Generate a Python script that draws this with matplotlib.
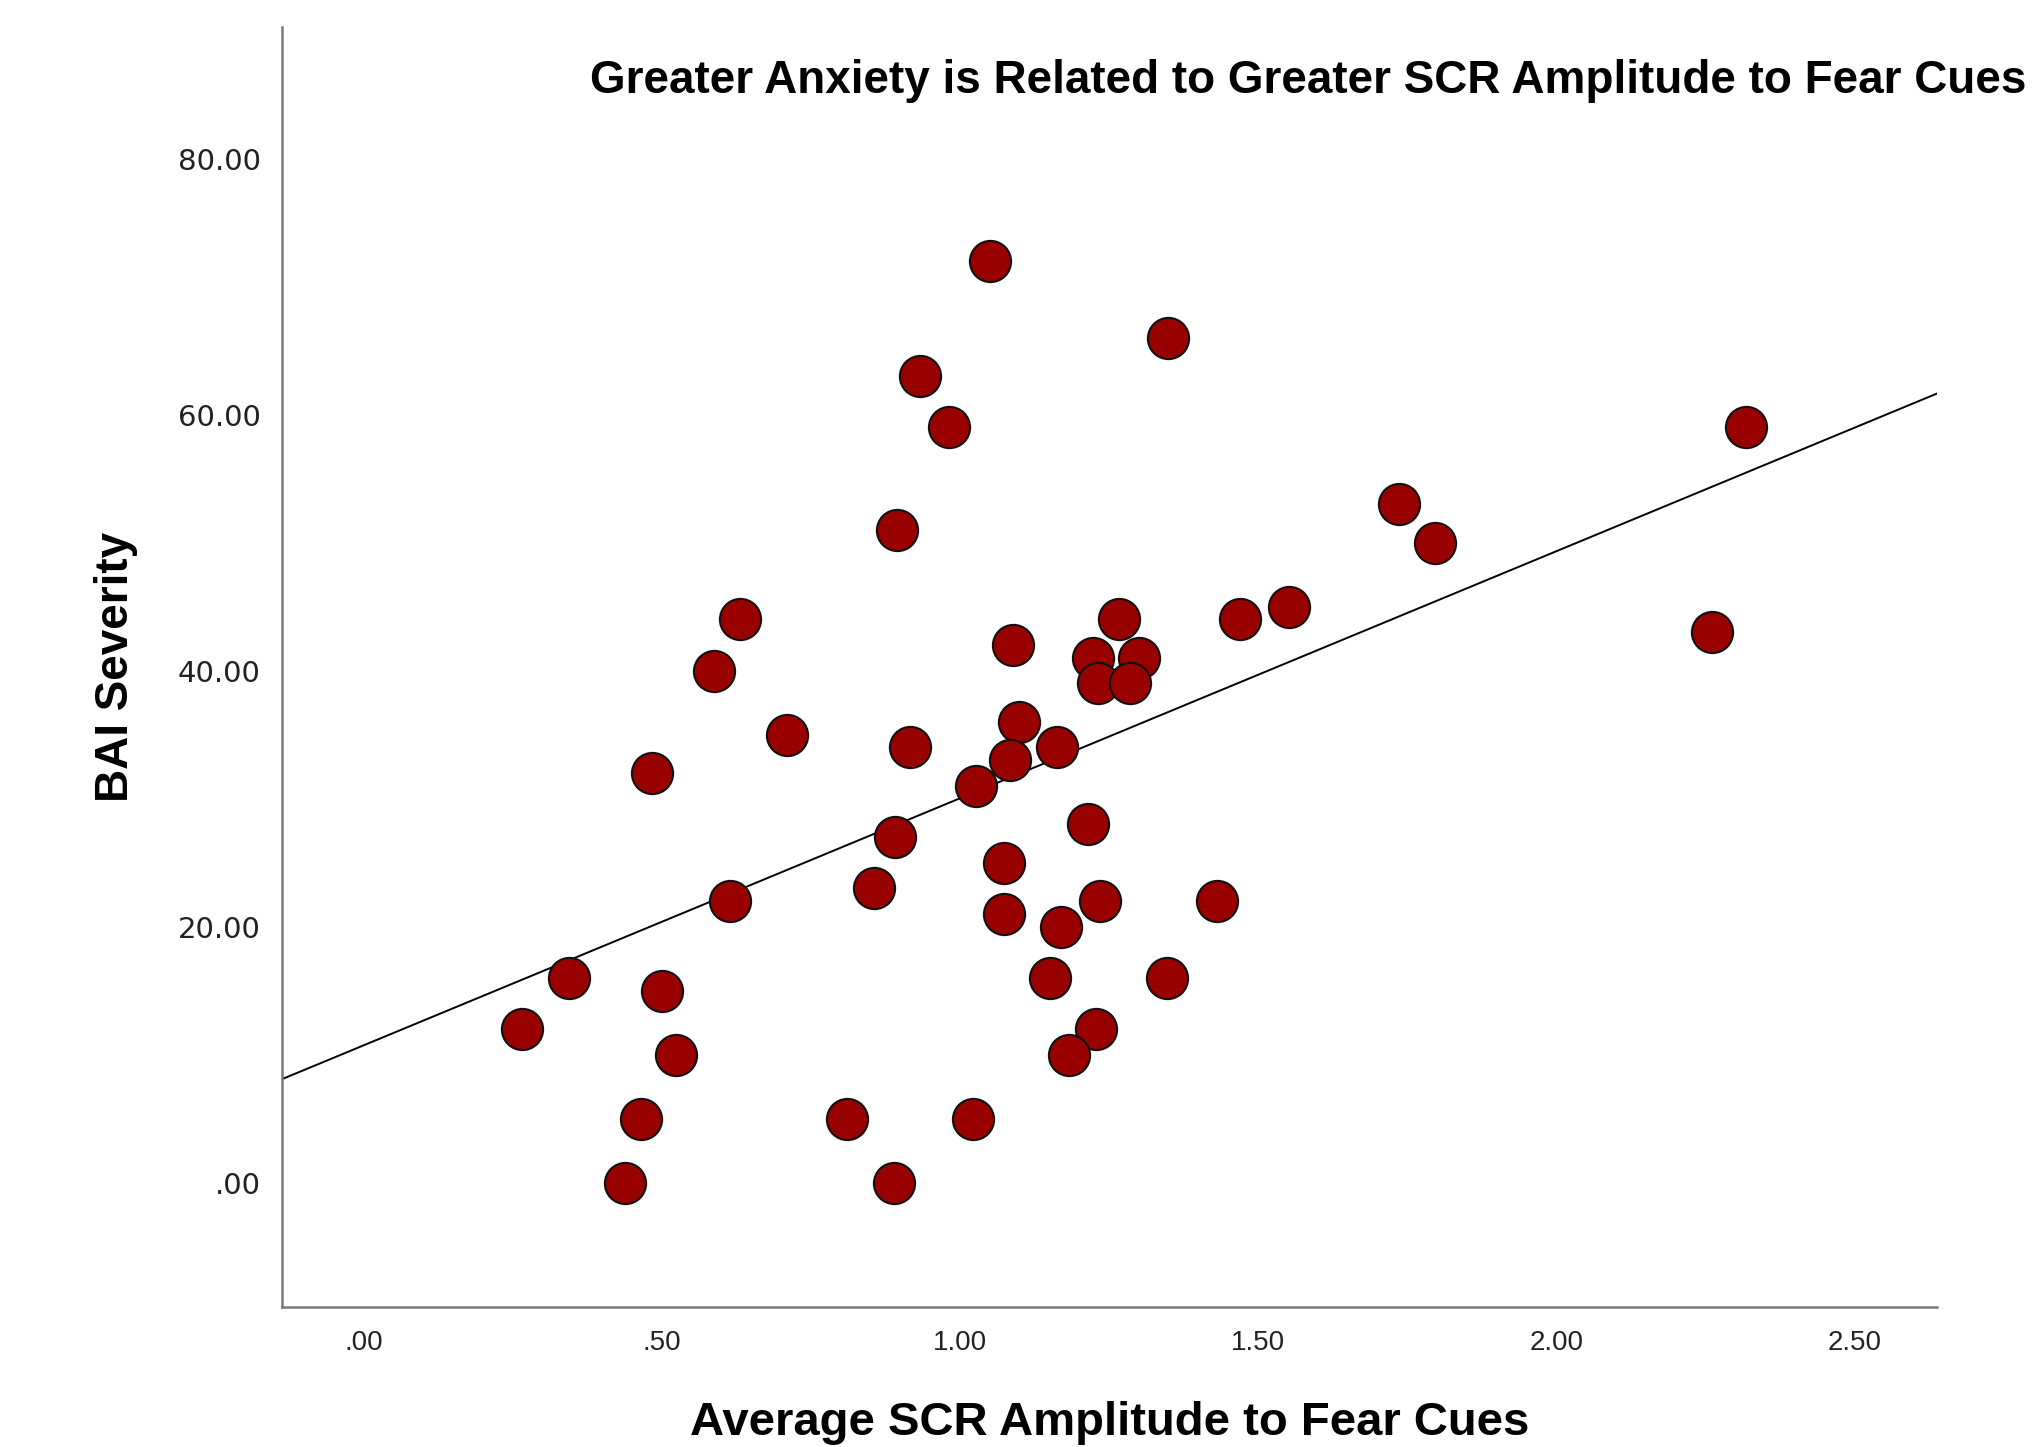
import numpy as np
import matplotlib
matplotlib.use("Agg")
import matplotlib.pyplot as plt

# Data
scr_amplitude = [1.050, 1.349, 0.933, 0.981, 2.319, 0.894, 1.736, 1.797, 2.262, 0.631,
                 0.586, 1.267, 1.469, 1.552, 1.089, 1.222, 1.300, 1.231, 1.285, 1.098,
                 0.710, 0.916, 1.163, 1.084, 1.026, 0.482, 0.890, 1.214, 1.073, 0.855,
                 0.613, 1.234, 1.431, 1.074, 1.169, 0.343, 1.151, 1.347, 0.499, 0.264,
                 1.227, 0.523, 1.182, 0.465, 0.810, 1.022, 0.437, 0.889]
bai_severity = [72, 66, 63, 59, 59, 51, 53, 50, 43, 44,
                40, 44, 44, 45, 42, 41, 41, 39, 39, 36,
                35, 34, 34, 33, 31, 32, 27, 28, 25, 23,
                22, 22, 22, 21, 20, 16, 16, 16, 15, 12,
                12, 10, 10, 5, 5, 5, 0, 0]

x_ticks = [0.0, 0.5, 1.0, 1.5, 2.0, 2.5]
x_tick_labels = [".00", ".50", "1.00", "1.50", "2.00", "2.50"]
y_ticks = [0, 20, 40, 60, 80]
y_tick_labels = [".00", "20.00", "40.00", "60.00", "80.00"]

title = "Greater Anxiety is Related to Greater SCR Amplitude to Fear Cues"
x_label = "Average SCR Amplitude to Fear Cues"
y_label = "BAI Severity"

bold_font = ["Liberation Sans", "DejaVu Sans"]

W, H = 2040, 1447
fig = plt.figure(figsize=(W / 100, H / 100), dpi=100)
left, right, bottom, top = 281.7, 1937, 1306.7, 26.7
ax = fig.add_axes([left / W, 1 - bottom / H, (right - left) / W, (bottom - top) / H])

xlim = (-0.1386, 2.639)
ylim = (-9.70, 90.3)
ax.set_xlim(*xlim)
ax.set_ylim(*ylim)

# regression line (least-squares fit of the data)
slope, intercept = np.polyfit(scr_amplitude, bai_severity, 1)
xs = np.array(xlim)
ax.plot(xs, intercept + slope * xs, color="black", lw=1.4, zorder=2)

ax.scatter(scr_amplitude, bai_severity, s=880, color="#990000",
           edgecolors="#111111", linewidths=1.5, zorder=3)

ax.set_xticks(x_ticks)
ax.set_xticklabels(x_tick_labels, fontfamily=bold_font, fontsize=20, color="#222222")
ax.set_yticks(y_ticks)
ax.set_yticklabels(y_tick_labels, fontfamily="DejaVu Sans", fontsize=21, color="#222222")
ax.tick_params(axis="both", length=0)
ax.tick_params(axis="x", pad=17)
ax.tick_params(axis="y", pad=15)

for s in ["top", "right"]:
    ax.spines[s].set_visible(False)
for s in ["left", "bottom"]:
    ax.spines[s].set_color("#7a7a7a")
    ax.spines[s].set_linewidth(1.8)

fig.text(1308 / W, 1 - 93 / H, title, ha="center", va="baseline",
         fontfamily=bold_font, fontweight="bold", fontsize=33)
fig.text(1110 / W, 1 - 1435 / H, x_label, ha="center", va="baseline",
         fontfamily=bold_font, fontweight="bold", fontsize=34)
fig.text(116 / W, 1 - 667 / H, y_label, ha="center", va="center", rotation=90,
         fontfamily=bold_font, fontweight="bold", fontsize=33)

fig.savefig("out.png", dpi=100, facecolor="white")
